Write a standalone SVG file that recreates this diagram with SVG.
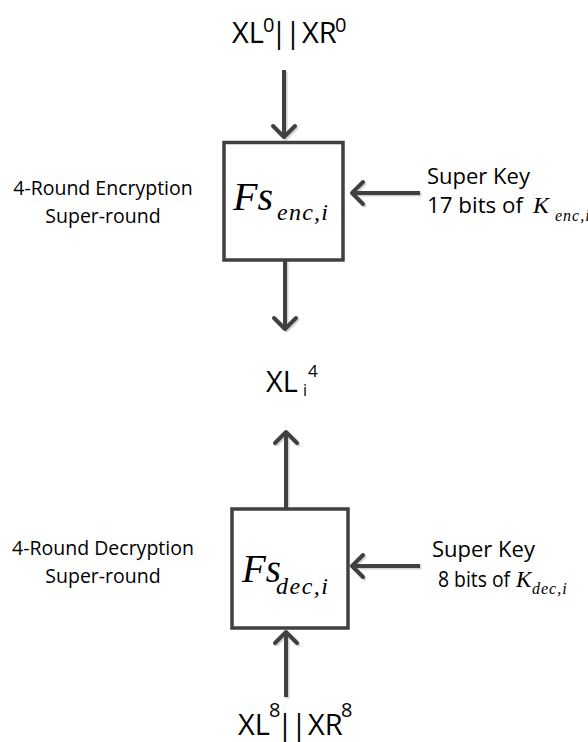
<svg xmlns="http://www.w3.org/2000/svg" width="588" height="742" viewBox="0 0 588 742">
  <defs>
    <style>
      .sans { font-family: "Open Sans", "Liberation Sans", sans-serif; fill: #000; }
      .math { font-family: "Liberation Serif", "Times New Roman", serif; font-style: italic; fill: #000; }
      .box { fill: #fff; stroke: #404040; stroke-width: 3.5; }
      .conn { fill: none; stroke: #404040; stroke-width: 4; stroke-linecap: butt; }
    </style>
    <marker id="ah" markerUnits="userSpaceOnUse" viewBox="-14 -14 18 28" refX="0" refY="0" markerWidth="18" markerHeight="28" orient="auto" overflow="visible">
      <path d="M-11,-11 L0,0 L-11,11" fill="none" stroke="#404040" stroke-width="4" stroke-linecap="round" stroke-linejoin="round"/>
    </marker>
    <filter id="sh" x="-50%" y="-50%" width="200%" height="200%">
      <feDropShadow dx="1.5" dy="1.5" stdDeviation="0.6" flood-color="#000" flood-opacity="0.18"/>
    </filter>
  </defs>
  <rect width="588" height="742" fill="#fff"/>

  <g id="connectors" filter="url(#sh)">
    <path class="conn" d="M284,70 V137" marker-end="url(#ah)"/>
    <path class="conn" d="M285,260 V329" marker-end="url(#ah)"/>
    <path class="conn" d="M420,193 H352" marker-end="url(#ah)"/>
    <path class="conn" d="M286,509 V432" marker-end="url(#ah)"/>
    <path class="conn" d="M286,697 V632" marker-end="url(#ah)"/>
    <path class="conn" d="M420,566 H352" marker-end="url(#ah)"/>
  </g>

  <g id="input-top">
    <text class="sans" font-size="29" y="43"><tspan x="232">XL</tspan><tspan x="263" y="32" font-size="20">0</tspan><tspan x="271" y="43">|</tspan><tspan x="285">|</tspan><tspan x="302">XR</tspan><tspan x="335" y="32" font-size="20">0</tspan></text>
  </g>

  <g id="fs-enc">
    <rect class="box" x="224" y="142.5" width="119" height="117.5"/>
    <text class="math" font-size="40" x="233" y="210">Fs</text>
    <text class="math" font-size="24" x="277" y="220" textLength="51" lengthAdjust="spacing">enc,i</text>
  </g>

  <g id="enc-label">
    <text class="sans" font-size="19.5" text-anchor="middle" x="103" y="195">4-Round Encryption</text>
    <text class="sans" font-size="19.5" text-anchor="middle" x="103" y="223">Super-round</text>
  </g>

  <g id="key-enc">
    <text class="sans" font-size="22" x="427" y="184">Super Key</text>
    <text class="sans" font-size="22" x="427" y="213" textLength="96" lengthAdjust="spacingAndGlyphs">17 bits of</text>
    <text class="math" font-size="24" x="533" y="213">K</text>
    <text class="math" font-size="16" x="555" y="221" letter-spacing="1">enc,i</text>
  </g>

  <g id="xl4">
    <text class="sans" font-size="29" y="392"><tspan x="266">XL</tspan><tspan x="303" y="396" font-size="16">i</tspan><tspan x="308" y="377" font-size="17">4</tspan></text>
  </g>

  <g id="fs-dec">
    <rect class="box" x="232" y="509" width="116" height="119"/>
    <text class="math" font-size="39" x="242" y="582">Fs</text>
    <text class="math" font-size="24" x="276" y="594" textLength="52" lengthAdjust="spacing">dec,i</text>
  </g>

  <g id="dec-label">
    <text class="sans" font-size="19.5" text-anchor="middle" x="103" y="555">4-Round Decryption</text>
    <text class="sans" font-size="19.5" text-anchor="middle" x="103" y="583">Super-round</text>
  </g>

  <g id="key-dec">
    <text class="sans" font-size="22" x="432" y="557">Super Key</text>
    <text class="sans" font-size="22" x="438" y="587" textLength="72" lengthAdjust="spacingAndGlyphs">8 bits of</text>
    <text class="math" font-size="23" x="516" y="587">K</text>
    <text class="math" font-size="16" x="532" y="594" letter-spacing="1">dec,i</text>
  </g>

  <g id="input-bottom">
    <text class="sans" font-size="29" y="735"><tspan x="238">XL</tspan><tspan x="269" y="717" font-size="20">8</tspan><tspan x="277" y="735">|</tspan><tspan x="291">|</tspan><tspan x="308">XR</tspan><tspan x="341" y="717" font-size="20">8</tspan></text>
  </g>
</svg>
